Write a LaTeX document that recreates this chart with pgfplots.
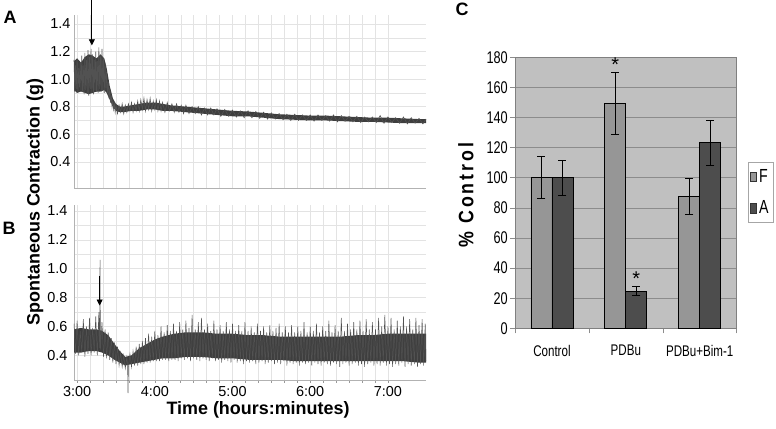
\documentclass[border=0pt]{standalone}
\usepackage{fontspec}
\setmainfont{Liberation Sans}
\newfontfamily\narrowfont[FakeStretch=0.75]{Liberation Sans}
\newfontfamily\spacedfont[FakeStretch=0.85,LetterSpace=14]{Liberation Sans}
\usepackage{pgfplots}
\pgfplotsset{compat=1.18}
\usetikzlibrary{arrows.meta}
\definecolor{tracecol}{HTML}{3E3E3E}
\definecolor{spikecol}{HTML}{525252}
\definecolor{Fcol}{HTML}{969696}
\definecolor{Acol}{HTML}{4D4D4D}
\definecolor{cbg}{HTML}{C0C0C0}
\pgfplotsset{
  trace/.style={
    scale only axis, width=352bp, clip=false,
    xmin=2.96, xmax=7.49,
    xtick={3,4,5,6,7}, minor x tick num=5,
    ytick={0.4,0.6,...,1.41}, minor y tick num=1,
    grid=both,
    grid style={draw=black!11, line width=0.4bp},
    minor grid style={draw=black!11, line width=0.4bp},
    axis x line*=bottom, axis y line*=left,
    axis line style={-, draw=black!30, line width=0.5bp},
    ytick style={draw=none},
    tick label style={font=\fontsize{14.5}{14.5}\selectfont},
    yticklabel style={/pgf/number format/.cd, fixed, fixed zerofill, precision=1},
    /pgf/number format/assume math mode=true,
  }
}
\begin{document}
\begin{tikzpicture}
\path[use as bounding box] (0,0) rectangle (776bp,429bp);

% ---------------- Panel A ----------------
\begin{axis}[trace, at={(74bp,241bp)}, anchor=south west, height=173bp,
  ymin=0.21, ymax=1.465, xticklabels={}, xtick style={draw=none}]
\addplot[fill=tracecol, draw=none] coordinates {
 (2.96,1.13) (3.00,1.15) (3.05,1.12) (3.10,1.16) (3.15,1.18) (3.20,1.17) (3.25,1.15) (3.30,1.18) (3.35,1.15)
 (3.38,1.08) (3.42,0.95) (3.46,0.86) (3.50,0.82) (3.55,0.80) (3.60,0.80) (3.70,0.81) (3.80,0.82) (3.90,0.83)
 (4.00,0.83) (4.10,0.82) (4.20,0.81) (4.40,0.80) (4.60,0.79) (4.80,0.78) (5.00,0.77) (5.20,0.765) (5.40,0.755)
 (5.60,0.745) (5.80,0.74) (6.00,0.735) (6.20,0.735) (6.40,0.73) (6.60,0.725) (6.80,0.72) (7.00,0.72) (7.20,0.715)
 (7.40,0.71) (7.49,0.71)
 (7.49,0.68) (7.40,0.68) (7.20,0.68) (7.00,0.685) (6.80,0.69) (6.60,0.69) (6.40,0.695) (6.20,0.70) (6.00,0.70)
 (5.80,0.705) (5.60,0.71) (5.40,0.72) (5.20,0.73) (5.00,0.73) (4.80,0.74) (4.60,0.75) (4.40,0.76) (4.20,0.77)
 (4.10,0.77) (4.00,0.78) (3.90,0.78) (3.80,0.77) (3.70,0.77) (3.60,0.76) (3.55,0.76) (3.50,0.77) (3.46,0.80)
 (3.42,0.85) (3.38,0.90) (3.35,0.92) (3.30,0.91) (3.25,0.91) (3.20,0.90) (3.15,0.89) (3.10,0.90) (3.05,0.91)
 (3.00,0.90) (2.96,0.92)
} -- cycle;
\addplot[spikecol, line width=0.6bp] coordinates {
 (2.96,1.14) (2.97,0.91) (2.98,1.10) (2.99,0.93) (3.00,1.15) (3.01,0.90) (3.02,1.08) (3.03,0.94) (3.04,1.12)
 (3.05,0.92) (3.06,1.17) (3.07,0.91) (3.08,1.10) (3.09,0.89) (3.10,1.19) (3.11,0.92) (3.12,1.14) (3.13,0.90)
 (3.14,1.21) (3.15,0.88) (3.16,1.16) (3.17,0.93) (3.18,1.22) (3.19,0.90) (3.20,1.18) (3.21,0.89) (3.22,1.14)
 (3.23,0.92) (3.24,1.20) (3.25,0.91) (3.26,1.13) (3.27,0.90) (3.28,1.23) (3.29,0.93) (3.30,1.17) (3.31,0.91)
 (3.32,1.22) (3.33,0.92) (3.34,1.15) (3.35,0.90) (3.36,1.12) (3.37,0.92) (3.38,1.05) (3.39,0.90) (3.40,0.98)
 (3.41,0.86) (3.42,0.93) (3.43,0.83) (3.44,0.88) (3.45,0.80) (3.46,0.84) (3.47,0.78) (3.48,0.82) (3.49,0.76)
 (3.50,0.81) (3.52,0.75) (3.54,0.81) (3.56,0.76) (3.58,0.82) (3.60,0.75) (3.62,0.81) (3.64,0.76) (3.66,0.82)
 (3.68,0.77) (3.70,0.83) (3.72,0.76) (3.74,0.82) (3.76,0.77) (3.78,0.84) (3.80,0.77) (3.82,0.85) (3.84,0.78)
 (3.86,0.86) (3.88,0.77) (3.90,0.85) (3.92,0.78) (3.94,0.86) (3.96,0.77) (3.98,0.84) (4.00,0.78) (4.02,0.85)
 (4.04,0.77) (4.06,0.84) (4.08,0.77) (4.10,0.83) (4.13,0.76) (4.16,0.83) (4.19,0.77) (4.22,0.82) (4.25,0.76)
 (4.28,0.82) (4.31,0.76) (4.34,0.81) (4.37,0.75) (4.40,0.81) (4.44,0.75) (4.48,0.80) (4.52,0.75) (4.56,0.80)
 (4.60,0.74) (4.64,0.79) (4.68,0.74) (4.72,0.79) (4.76,0.74) (4.80,0.785) (4.85,0.73) (4.90,0.78) (4.95,0.73)
 (5.00,0.775) (5.05,0.725) (5.10,0.77) (5.15,0.72) (5.20,0.77) (5.25,0.72) (5.30,0.765) (5.35,0.715) (5.40,0.76)
 (5.45,0.71) (5.50,0.755) (5.55,0.71) (5.60,0.75) (5.65,0.705) (5.70,0.745) (5.75,0.70) (5.80,0.745) (5.85,0.70)
 (5.90,0.74) (5.95,0.70) (6.00,0.74) (6.05,0.695) (6.10,0.74) (6.15,0.70) (6.20,0.735) (6.25,0.695) (6.30,0.74)
 (6.35,0.69) (6.40,0.735) (6.45,0.695) (6.50,0.73) (6.55,0.69) (6.60,0.73) (6.65,0.685) (6.70,0.725) (6.75,0.69)
 (6.80,0.725) (6.85,0.685) (6.90,0.735) (6.95,0.68) (7.00,0.725) (7.05,0.685) (7.10,0.72) (7.15,0.68) (7.20,0.725)
 (7.25,0.675) (7.30,0.72) (7.35,0.68) (7.40,0.715) (7.45,0.675) (7.49,0.71)
};
\draw[-{Triangle[length=6bp,width=6bp]}, line width=0.8bp, black] (axis cs:3.19,1.575) -- (axis cs:3.19,1.245);
\end{axis}

% ---------------- Panel B ----------------
\begin{axis}[trace, at={(74bp,49bp)}, anchor=south west, height=175bp,
  ymin=0.23, ymax=1.44,
  xticklabels={3:00,4:00,5:00,6:00,7:00},
  tick align=outside, xtick pos=bottom, major tick length=3bp, minor tick length=3bp,
  xtick style={draw=black!40, line width=0.5bp}]
\addplot[fill=tracecol, draw=none] coordinates {
 (2.96,0.58) (3.05,0.59) (3.15,0.58) (3.25,0.58) (3.32,0.57) (3.40,0.54) (3.48,0.48) (3.55,0.43) (3.62,0.39)
 (3.70,0.40) (3.80,0.45) (3.90,0.48) (4.00,0.51) (4.10,0.53) (4.25,0.55) (4.40,0.56) (4.60,0.56) (4.80,0.55)
 (5.00,0.55) (5.20,0.54) (5.40,0.54) (5.60,0.53) (5.80,0.53) (6.00,0.53) (6.20,0.53) (6.40,0.53) (6.60,0.54)
 (6.80,0.54) (7.00,0.55) (7.20,0.55) (7.40,0.55) (7.49,0.55)
 (7.49,0.35) (7.40,0.35) (7.20,0.36) (7.00,0.36) (6.80,0.36) (6.60,0.36) (6.40,0.36) (6.20,0.36) (6.00,0.36)
 (5.80,0.36) (5.60,0.37) (5.40,0.37) (5.20,0.37) (5.00,0.38) (4.80,0.38) (4.60,0.39) (4.40,0.39) (4.25,0.38)
 (4.10,0.38) (4.00,0.37) (3.90,0.36) (3.80,0.35) (3.70,0.34) (3.62,0.33) (3.55,0.35) (3.48,0.37) (3.40,0.40)
 (3.32,0.42) (3.25,0.43) (3.15,0.43) (3.05,0.42) (2.96,0.42)
} -- cycle;
\addplot[spikecol, line width=0.5bp] coordinates {
 (2.96,0.62) (2.98,0.41) (3.00,0.64) (3.02,0.40) (3.04,0.57) (3.06,0.42) (3.08,0.65) (3.10,0.39) (3.12,0.60)
 (3.14,0.41) (3.16,0.66) (3.18,0.40) (3.20,0.59) (3.22,0.42) (3.24,0.67) (3.26,0.40) (3.28,0.70) (3.29,0.45)
 (3.295,1.06) (3.30,0.44) (3.32,0.63) (3.34,0.39) (3.36,0.58) (3.38,0.38) (3.40,0.56) (3.42,0.37) (3.44,0.52)
 (3.46,0.35) (3.48,0.49) (3.50,0.34) (3.52,0.46) (3.54,0.33) (3.56,0.42) (3.58,0.32) (3.60,0.40) (3.62,0.31)
 (3.64,0.39) (3.65,0.33) (3.655,0.14) (3.66,0.32) (3.68,0.41) (3.70,0.32) (3.72,0.43) (3.74,0.33) (3.76,0.46)
 (3.78,0.33) (3.80,0.48) (3.82,0.34) (3.84,0.50) (3.86,0.34) (3.88,0.52) (3.90,0.35) (3.92,0.55) (3.94,0.35)
 (3.96,0.53) (3.98,0.36) (4.00,0.57) (4.02,0.36) (4.04,0.54) (4.06,0.36) (4.08,0.60) (4.10,0.37) (4.12,0.56)
 (4.14,0.37) (4.16,0.61) (4.18,0.36) (4.20,0.57) (4.22,0.37) (4.24,0.62) (4.26,0.37) (4.28,0.57) (4.30,0.36)
 (4.32,0.63) (4.34,0.38) (4.36,0.58) (4.38,0.37) (4.40,0.64) (4.42,0.38) (4.44,0.59) (4.46,0.36) (4.48,0.68)
 (4.50,0.38) (4.52,0.58) (4.54,0.37) (4.56,0.63) (4.58,0.36) (4.60,0.66) (4.62,0.38) (4.64,0.58) (4.66,0.37)
 (4.68,0.62) (4.70,0.36) (4.72,0.57) (4.74,0.38) (4.76,0.64) (4.78,0.36) (4.80,0.58) (4.82,0.37) (4.84,0.61)
 (4.86,0.35) (4.88,0.57) (4.90,0.37) (4.92,0.63) (4.94,0.36) (4.96,0.58) (4.98,0.35) (5.00,0.62) (5.02,0.37)
 (5.04,0.57) (5.06,0.35) (5.08,0.61) (5.10,0.36) (5.12,0.57) (5.14,0.34) (5.16,0.63) (5.18,0.36) (5.20,0.57)
 (5.22,0.35) (5.24,0.60) (5.26,0.36) (5.28,0.56) (5.30,0.34) (5.32,0.62) (5.34,0.35) (5.36,0.57) (5.38,0.36)
 (5.40,0.60) (5.42,0.34) (5.44,0.56) (5.46,0.35) (5.48,0.61) (5.50,0.36) (5.52,0.57) (5.54,0.34) (5.56,0.59)
 (5.58,0.35) (5.60,0.62) (5.62,0.34) (5.64,0.56) (5.66,0.36) (5.68,0.60) (5.70,0.33) (5.72,0.56) (5.74,0.35)
 (5.76,0.61) (5.78,0.34) (5.80,0.56) (5.82,0.35) (5.84,0.60) (5.86,0.33) (5.88,0.57) (5.90,0.35) (5.92,0.63)
 (5.94,0.34) (5.96,0.56) (5.98,0.35) (6.00,0.60) (6.02,0.33) (6.04,0.57) (6.06,0.35) (6.08,0.62) (6.10,0.34)
 (6.12,0.56) (6.14,0.33) (6.16,0.60) (6.18,0.35) (6.20,0.57) (6.22,0.34) (6.24,0.64) (6.26,0.33) (6.28,0.56)
 (6.30,0.35) (6.32,0.61) (6.34,0.34) (6.36,0.57) (6.38,0.32) (6.40,0.66) (6.42,0.34) (6.44,0.57) (6.46,0.35)
 (6.48,0.62) (6.50,0.33) (6.52,0.58) (6.54,0.34) (6.56,0.63) (6.58,0.35) (6.60,0.58) (6.62,0.33) (6.64,0.64)
 (6.66,0.34) (6.68,0.57) (6.70,0.32) (6.72,0.65) (6.74,0.34) (6.76,0.58) (6.78,0.35) (6.80,0.63) (6.82,0.33)
 (6.84,0.58) (6.86,0.34) (6.88,0.66) (6.90,0.33) (6.92,0.60) (6.94,0.35) (6.96,0.68) (6.98,0.33) (7.00,0.60)
 (7.02,0.34) (7.04,0.66) (7.06,0.32) (7.08,0.58) (7.10,0.34) (7.12,0.64) (7.14,0.33) (7.16,0.60) (7.18,0.35)
 (7.20,0.67) (7.22,0.32) (7.24,0.60) (7.26,0.34) (7.28,0.65) (7.30,0.33) (7.32,0.58) (7.34,0.34) (7.36,0.66)
 (7.38,0.32) (7.40,0.61) (7.42,0.34) (7.44,0.65) (7.46,0.33) (7.48,0.62) (7.49,0.36)
};
\draw[-{Triangle[length=6bp,width=6bp]}, line width=0.8bp, black] (axis cs:3.29,0.95) -- (axis cs:3.29,0.745);
\end{axis}

% shared labels
\node[rotate=90, font=\bfseries\fontsize{18}{18}\selectfont] at (35bp,227bp) {Spontaneous Contraction (g)};
\node[font=\bfseries\fontsize{18}{18}\selectfont] at (258bp,19bp) {Time (hours:minutes)};
\node[font=\bfseries\fontsize{18}{18}\selectfont] at (10bp,412bp) {A};
\node[font=\bfseries\fontsize{18}{18}\selectfont] at (9bp,201bp) {B};
\node[font=\bfseries\fontsize{18}{18}\selectfont] at (462bp,420bp) {C};

% ---------------- Panel C ----------------
\begin{axis}[at={(515bp,100.7bp)}, anchor=south west, scale only axis,
  width=221.7bp, height=271bp,
  xmin=-0.5, xmax=2.5, ymin=0, ymax=180,
  ytick={0,20,...,180},
  xtick={-0.5,0.5,1.5,2.5}, xticklabels={},
  extra x ticks={0,1,2}, extra x tick labels={Control,PDBu,PDBu+Bim-1},
  extra x tick style={major tick length=0pt, grid=none},
  tick align=outside, tick pos=left,
  major tick length=5bp,
  xtick style={draw=black!45, line width=0.6bp},
  ytick style={draw=black!45, line width=0.6bp},
  axis background/.style={fill=cbg},
  ymajorgrids, grid style={draw=black!45, line width=0.5bp},
  axis line style={draw=black!50, line width=0.8bp},
  /pgf/number format/assume math mode=true,
  yticklabel style={font=\narrowfont\fontsize{17}{17}\selectfont, inner sep=2bp},
  xticklabel style={font=\narrowfont\fontsize{15.5}{15.5}\selectfont, yshift=-13bp},
  legend style={at={(1.05,0.614)}, anchor=north west, draw=black!35, fill=white,
    font=\narrowfont\fontsize{19}{19}\selectfont, inner xsep=2.5bp, inner ysep=5bp,
    row sep=13bp},
  legend cell align=left,
  clip=false]
\addplot[ybar, bar width=0.284, bar shift=0pt, fill=Fcol, draw=black, line width=0.8bp,
  legend image code/.code={\draw[fill=Fcol, draw=black!80, line width=0.6bp] (0bp,-5bp) rectangle (6bp,4.5bp);},
  error bars/.cd, y dir=both, y explicit,
  error bar style={line width=1.1bp, black},
  error mark options={rotate=90, mark size=4bp, line width=1.1bp, black}]
  coordinates {(-0.142,100) +- (0,14) (0.858,149.5) +- (0,20.5) (1.858,87.5) +- (0,12)};
\addlegendentry{F}
\addplot[ybar, bar width=0.284, bar shift=0pt, fill=Acol, draw=black, line width=0.8bp,
  legend image code/.code={\draw[fill=Acol, draw=black!80, line width=0.6bp] (0bp,-5bp) rectangle (6bp,4.5bp);},
  error bars/.cd, y dir=both, y explicit,
  error bar style={line width=1.1bp, black},
  error mark options={rotate=90, mark size=4bp, line width=1.1bp, black}]
  coordinates {(0.142,100) +- (0,11.5) (1.142,24.5) +- (0,3) (2.142,123.3) +- (0,15)};
\addlegendentry{A}
\node[font=\fontsize{20}{20}\selectfont] at (axis cs:0.858,175) {*};
\node[font=\fontsize{20}{20}\selectfont] at (axis cs:1.142,33) {*};
\end{axis}
\node[rotate=90, font=\spacedfont\bfseries\fontsize{21}{21}\selectfont] at (466bp,234bp) {\% Control};
\end{tikzpicture}
\end{document}
